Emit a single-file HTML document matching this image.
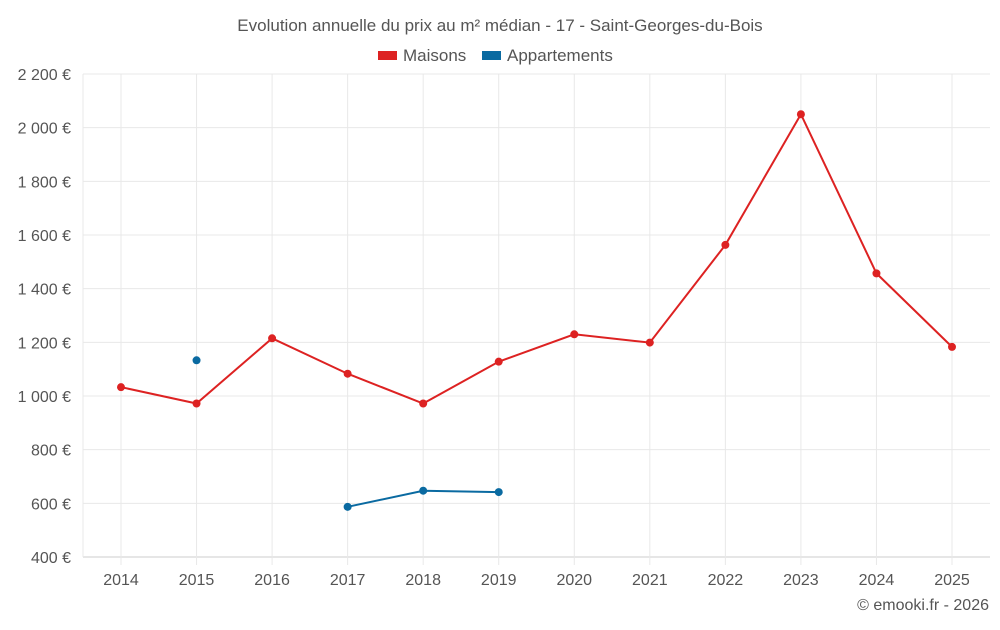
<!DOCTYPE html>
<html><head><meta charset="utf-8"><style>
body{margin:0;background:#fff;font-family:"Liberation Sans",sans-serif;}
svg text{font-family:"Liberation Sans",sans-serif;fill:#555;}
</style></head><body>
<svg id="c" width="1000" height="625">
<text x="500" y="31" text-anchor="middle" font-size="17">Evolution annuelle du prix au m² médian - 17 - Saint-Georges-du-Bois</text>
<g>
<rect x="378" y="51" width="19" height="9" fill="#dd2222"/>
<text x="403" y="61" font-size="17">Maisons</text>
<rect x="482" y="51" width="19" height="9" fill="#0a6aa1"/>
<text x="507" y="61" font-size="17">Appartements</text>
</g>
<text x="989" y="610" text-anchor="end" font-size="16">© emooki.fr - 2026</text>
<g id="grid"></g><g id="plot"></g>
</svg>
<script>
const years=[2014,2015,2016,2017,2018,2019,2020,2021,2022,2023,2024,2025];
const maisons=[1033,972,1215,1083,972,1128,1230,1199,1563,2050,1457,1183];
const appartements=[null,1133,null,587,647,642,null,null,null,null,null,null];
const yTicks=[400,600,800,1000,1200,1400,1600,1800,2000,2200];
const NS='http://www.w3.org/2000/svg';
const L=83,R=990,T=74,B=557;
const x=i=>121+i*(952-121)/(years.length-1);
const y=v=>B-(v-400)/(2200-400)*(B-T);
const g=document.getElementById('grid'),p=document.getElementById('plot');
function mk(tag,at,par){const e=document.createElementNS(NS,tag);for(const k in at)e.setAttribute(k,at[k]);par.appendChild(e);return e;}
yTicks.forEach(v=>{
 const l=mk('line',{x1:L,x2:R,y1:y(v),y2:y(v),stroke:v===400?'#ccc':'#e8e8e8'},g);
 
 
 const t=mk('text',{x:71,y:y(v)+6,'text-anchor':'end','font-size':16},g);
 t.textContent=v.toLocaleString('fr-FR').replace(/\s/g,' ')+' €';
 
 
});
years.forEach((yr,i)=>{
 const l=mk('line',{x1:x(i),x2:x(i),y1:T,y2:565,stroke:'#e8e8e8'},g);
 
 
 const t=mk('text',{x:x(i),y:585,'text-anchor':'middle','font-size':16},g);
 t.textContent=yr;
 
 
});
const ax=mk('line',{x1:L,x2:L,y1:T,y2:B,stroke:'#e8e8e8'},g);


function series(data,color,name){
 let segs=[],cur=[];
 data.forEach((v,i)=>{if(v==null){if(cur.length)segs.push(cur);cur=[];}else cur.push([x(i),y(v)]);});
 if(cur.length)segs.push(cur);
 segs.forEach(s=>{if(s.length>1){const pl=mk('polyline',{points:s.map(q=>q.join(',')).join(' '),fill:'none',stroke:color,'stroke-width':2},p);
  
  }});
 data.forEach((v,i)=>{if(v==null)return;const c=mk('circle',{cx:x(i),cy:y(v),r:4,fill:color},p);
  
  });
}
series(maisons,'#dd2222','maisons');
series(appartements,'#0a6aa1','appartements');
</script>
</body></html>
